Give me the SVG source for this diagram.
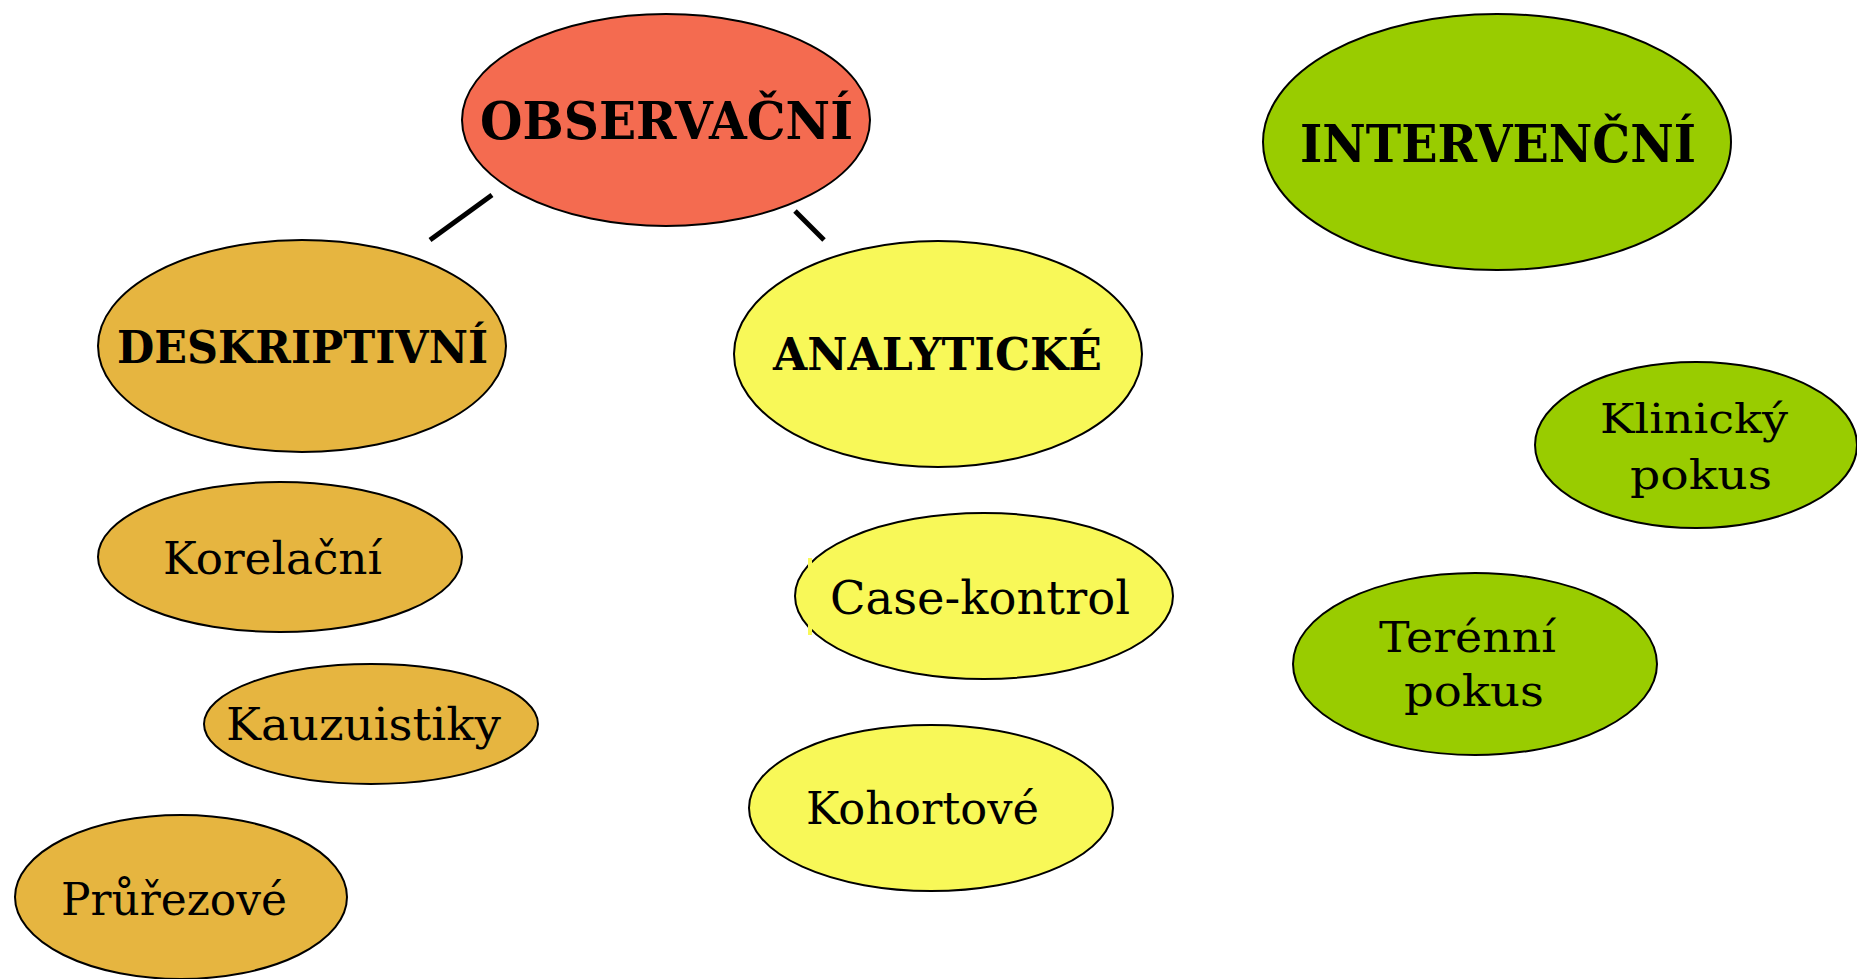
<svg xmlns="http://www.w3.org/2000/svg" width="1857" height="979" viewBox="0 0 1857 979">
<style>
  .n { stroke: #000; stroke-width: 2; }
  .red { fill: #F46B50; }
  .org { fill: #E6B540; }
  .yel { fill: #F8F858; }
  .grn { fill: #99CC00; }
  .b { font-family: "DejaVu Serif", "Liberation Serif", serif; font-weight: bold; fill: #000; }
  .r { font-family: "DejaVu Serif", "Liberation Serif", serif; font-weight: normal; fill: #000; }
  .conn { stroke: #000; stroke-width: 5; }
</style>
<rect width="1857" height="979" fill="#fff"/>
<g id="connectors">
  <line class="conn" x1="430" y1="240" x2="492" y2="195"/>
  <line class="conn" x1="795" y1="211" x2="824" y2="240"/>
</g>
<g id="observacni">
  <ellipse class="n red" cx="666" cy="120" rx="204" ry="106"/>
  <text class="b" x="480" y="139" font-size="52" textLength="373" lengthAdjust="spacingAndGlyphs">OBSERVAČNÍ</text>
</g>
<g id="intervencni">
  <ellipse class="n grn" cx="1497" cy="142" rx="234" ry="128"/>
  <text class="b" x="1300" y="162" font-size="52" textLength="396" lengthAdjust="spacingAndGlyphs">INTERVENČNÍ</text>
</g>
<g id="deskriptivni">
  <ellipse class="n org" cx="302" cy="346" rx="204" ry="106"/>
  <text class="b" x="117" y="363" font-size="45" textLength="371" lengthAdjust="spacingAndGlyphs">DESKRIPTIVNÍ</text>
</g>
<g id="analyticke">
  <ellipse class="n yel" cx="938" cy="354" rx="204" ry="113"/>
  <text class="b" x="773" y="370" font-size="44" textLength="329" lengthAdjust="spacingAndGlyphs">ANALYTICKÉ</text>
</g>
<g id="korelacni">
  <ellipse class="n org" cx="280" cy="557" rx="182" ry="75"/>
  <text class="r" x="163" y="574" font-size="45" textLength="219" lengthAdjust="spacingAndGlyphs">Korelační</text>
</g>
<g id="kauzuistiky">
  <ellipse class="n org" cx="371" cy="724" rx="167" ry="60"/>
  <text class="r" x="226" y="740" font-size="44" textLength="275" lengthAdjust="spacingAndGlyphs">Kauzuistiky</text>
</g>
<g id="prurezove">
  <ellipse class="n org" cx="181" cy="897" rx="166" ry="82"/>
  <text class="r" x="61" y="915" font-size="45" textLength="226" lengthAdjust="spacingAndGlyphs">Průřezové</text>
</g>
<g id="case-kontrol">
  <ellipse class="n yel" cx="984" cy="596" rx="189" ry="83"/>
  <rect x="808" y="558" width="4" height="77" fill="#F8F858"/>
  <text class="r" x="830" y="614" font-size="46" textLength="300" lengthAdjust="spacingAndGlyphs">Case-kontrol</text>
</g>
<g id="kohortove">
  <ellipse class="n yel" cx="931" cy="808" rx="182" ry="83"/>
  <text class="r" x="806" y="824" font-size="45" textLength="233" lengthAdjust="spacingAndGlyphs">Kohortové</text>
</g>
<g id="klinicky">
  <ellipse class="n grn" cx="1696" cy="445" rx="161" ry="83"/>
  <text class="r" x="1600" y="433" font-size="41" textLength="188" lengthAdjust="spacingAndGlyphs">Klinický</text>
  <text class="r" x="1630" y="489" font-size="41" textLength="142" lengthAdjust="spacingAndGlyphs">pokus</text>
</g>
<g id="terenni">
  <ellipse class="n grn" cx="1475" cy="664" rx="182" ry="91"/>
  <text class="r" x="1379" y="652" font-size="43" textLength="177" lengthAdjust="spacingAndGlyphs">Terénní</text>
  <text class="r" x="1404" y="706" font-size="43" textLength="140" lengthAdjust="spacingAndGlyphs">pokus</text>
</g>
</svg>
